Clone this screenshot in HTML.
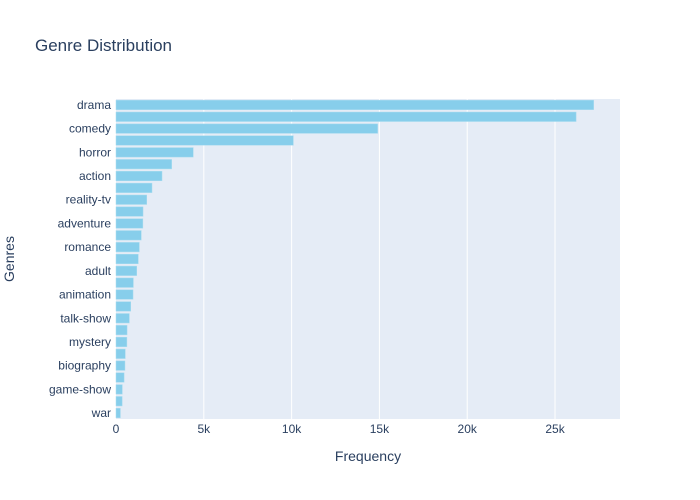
<!DOCTYPE html>
<html><head><meta charset="utf-8"><style>
body{margin:0;background:#fff;font-family:"Liberation Sans",sans-serif}
</style></head><body>
<svg id="c" width="700" height="500" style="display:block">
<rect width="700" height="500" fill="#fff"/>
<text x="35" y="51" font-size="17" fill="#2a3f5f">Genre Distribution</text>
<rect x="116" y="99" width="504" height="320" fill="#e5ecf6"/>
<g id="grid"></g><g id="bars"></g><g id="yt"></g><g id="xt"></g>
<text x="368" y="461" font-size="14" fill="#2a3f5f" text-anchor="middle">Frequency</text>
<text x="14" y="259" font-size="14" fill="#2a3f5f" text-anchor="middle" transform="rotate(-90 14 259)">Genres</text>
</svg>
<script>
const categories=["drama","documentary","comedy","short","horror","thriller","action","western","reality-tv","family","adventure","music","romance","sci-fi","adult","crime","animation","sport","talk-show","fantasy","mystery","musical","biography","history","game-show","news","war"];
const values=[27200,26200,14900,10100,4400,3170,2620,2050,1750,1540,1530,1440,1330,1270,1180,990,970,840,760,630,620,530,510,460,360,350,250];
const xTicks=[0,5000,10000,15000,20000,25000];
const xTickLabels=["0","5k","10k","15k","20k","25k"];
const ns="http://www.w3.org/2000/svg";
const X0=116,X1=620,XMAX=28700,Y0=99,Y1=419;
const x=v=>X0+v/XMAX*(X1-X0);
const step=(Y1-Y0)/categories.length;
const y=i=>Y0+step*(i+0.5);
function mk(t,a,p){const e=document.createElementNS(ns,t);for(const k in a)e.setAttribute(k,a[k]);p.appendChild(e);return e;}
const g=document.getElementById('grid'),b=document.getElementById('bars'),yt=document.getElementById('yt'),xt=document.getElementById('xt');
xTicks.forEach((t,i)=>{
 if(t>0){const l=mk('line',{x1:x(t),x2:x(t),y1:Y0,y2:Y1,stroke:'#fff','stroke-width':1},g);
 
 }
 const tx=mk('text',{x:x(t),y:433,'font-size':12,fill:'#2a3f5f','text-anchor':'middle'},xt);tx.textContent=xTickLabels[i];
 
 
});
categories.forEach((c,i)=>{
 const r=mk('rect',{x:X0,y:y(i)-step*0.4,width:x(values[i])-X0,height:step*0.8,fill:'#87ceeb',stroke:'#a9dcef','stroke-width':0.5},b);
 
 
 if(i%2==0){const t=mk('text',{x:111,y:y(i)+4,'font-size':12,fill:'#2a3f5f','text-anchor':'end'},yt);t.textContent=c;
 
 }
});
</script>
</body></html>
